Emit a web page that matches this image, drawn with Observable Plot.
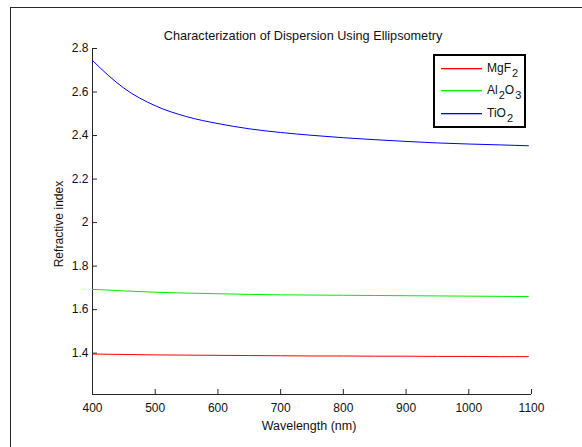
<!DOCTYPE html>
<html>
<head>
<meta charset="utf-8">
<script src="https://cdn.jsdelivr.net/npm/d3@7"></script>
<script src="https://cdn.jsdelivr.net/npm/@observablehq/plot@0.6"></script>
<style>
  html, body { margin: 0; padding: 0; background: #fff; }
  #wrap { position: relative; width: 582px; height: 447px; overflow: hidden; background: #fff;
          font-family: "Liberation Sans", Arial, sans-serif; }
  #border { position: absolute; left: 10px; top: 7px; width: 700px; height: 600px; border: 1px solid #2a2a2a; }
  #chart { position: absolute; left: 0; top: 0; }
  #legend { position: absolute; left: 433px; top: 54px; width: 93px; height: 74px; box-sizing: border-box;
            border: 2px solid #000; background: #fff; }
  #legend svg { position: absolute; left: 0; top: 0; }
  .row { position: absolute; left: 52px; height: 22px; width: 40px; }
  .row .lb { position: absolute; left: 0; top: 2px; font-size: 12px; color: #111; white-space: nowrap; }
  .row .lb sub { font-size: 11px; vertical-align: -5px; margin-left: 1px; }
</style>
</head>
<body>
<div id="wrap">
  <div id="border"></div>
  <div id="chart"></div>
  <div id="legend"></div>
</div>
<script>
// ---- data ----
const wavelength = [400, 425, 450, 500, 550, 600, 650, 700, 750, 800, 850, 900, 950, 1000, 1050, 1095];
const mgf2  = [1.396, 1.395, 1.394, 1.392, 1.391, 1.390, 1.389, 1.388, 1.387, 1.387, 1.386, 1.386, 1.385, 1.385, 1.384, 1.384];
const al2o3 = [1.693, 1.690, 1.686, 1.680, 1.676, 1.673, 1.670, 1.668, 1.667, 1.666, 1.665, 1.664, 1.663, 1.662, 1.661, 1.660];
const tio2  = [2.745, 2.677, 2.618, 2.537, 2.487, 2.455, 2.431, 2.414, 2.401, 2.390, 2.381, 2.373, 2.366, 2.361, 2.357, 2.353];

const seriesNames  = ["MgF2", "Al2O3", "TiO2"];
const seriesLabels = ["MgF<sub>2</sub>", "Al<sub>2</sub>O<sub>3</sub>", "TiO<sub>2</sub>"];
const seriesColors = ["#ff0000", "#00ee00", "#0000ff"];
const seriesValues = [mgf2, al2o3, tio2];

const xTicks = [400, 500, 600, 700, 800, 900, 1000, 1100];
const yTicks = [1.4, 1.6, 1.8, 2, 2.2, 2.4, 2.6, 2.8];
const xDomain = [400, 1100];
const yDomain = [1.21, 2.8];

const titleText = "Characterization of Dispersion Using Ellipsometry";
const xLabel = "Wavelength (nm)";
const yLabel = "Refractive index";

// ---- build ----
const rows = [];
seriesNames.forEach((name, i) => {
  wavelength.forEach((w, j) => rows.push({series: name, wavelength: w, n: seriesValues[i][j]}));
});

const W = 582, H = 447, mL = 92, mR = 51, mT = 48, mB = 53;
const plotW = W - mL - mR, plotH = H - mT - mB;
const tickLen = 5;
const axisColor = "#262626";
const fs = 12;

const plot = Plot.plot({
  width: W,
  height: H,
  marginLeft: mL,
  marginRight: mR,
  marginTop: mT,
  marginBottom: mB,
  style: { fontFamily: "'Liberation Sans', Arial, sans-serif", fontSize: fs + "px", color: "#111", background: "transparent" },
  x: { domain: xDomain },
  y: { domain: yDomain },
  color: { domain: seriesNames, range: seriesColors },
  marks: [
    Plot.ruleX([xDomain[0]], { y1: yDomain[0], y2: yDomain[1], stroke: axisColor }),
    Plot.ruleY([yDomain[0]], { x1: xDomain[0], x2: xDomain[1], stroke: axisColor }),
    // inward ticks
    Plot.tickY(yTicks, { y: d => d, insetRight: plotW - tickLen, stroke: axisColor }),
    Plot.tickX(xTicks, { x: d => d, insetTop: plotH - tickLen, stroke: axisColor }),
    Plot.axisY({ ticks: yTicks, tickSize: 0, tickPadding: 4, fill: "#111",
                 fontSize: fs, tickFormat: d => String(+d.toFixed(1)), label: null }),
    Plot.axisX({ ticks: xTicks, tickSize: 0, tickPadding: 9, fill: "#111",
                 fontSize: fs, tickFormat: d => String(d), label: null }),
    Plot.line(rows, { x: "wavelength", y: "n", z: "series", stroke: "series", strokeWidth: 1, curve: "monotone-x" }),
    Plot.text([titleText], { text: d => d, frameAnchor: "top", lineAnchor: "middle", textAnchor: "middle",
                             dy: -12.3, dx: -9, fontSize: 12.7, fill: "#111" }),
    Plot.text([xLabel], { text: d => d, frameAnchor: "bottom", lineAnchor: "middle", textAnchor: "middle",
                          dy: 31, dx: -3, fontSize: 12.5, fill: "#111" }),
    Plot.text([yLabel], { text: d => d, frameAnchor: "left", lineAnchor: "middle", textAnchor: "middle",
                          rotate: -90, dx: -33, dy: 2.5, fontSize: 12.1, fill: "#111" })
  ]
});
document.getElementById("chart").appendChild(plot);

// ---- legend ----
const legend = document.getElementById("legend");
const NS = "http://www.w3.org/2000/svg";
const lsvg = document.createElementNS(NS, "svg");
lsvg.setAttribute("width", 89);
lsvg.setAttribute("height", 70);
seriesNames.forEach((name, i) => {
  const yy = 12 + i * 22.3;
  const ln = document.createElementNS(NS, "rect");
  ln.setAttribute("x", 6);
  ln.setAttribute("width", 41);
  ln.setAttribute("y", Math.round(yy));
  ln.setAttribute("height", 1.3);
  ln.setAttribute("fill", seriesColors[i]);
  lsvg.appendChild(ln);

  const row = document.createElement("div");
  row.className = "row";
  row.style.top = Math.round(3 + i * 22.3) + "px";
  const lb = document.createElement("div");
  lb.className = "lb";
  lb.innerHTML = seriesLabels[i];
  row.appendChild(lb);
  legend.appendChild(row);
});
legend.appendChild(lsvg);
</script>
</body>
</html>
